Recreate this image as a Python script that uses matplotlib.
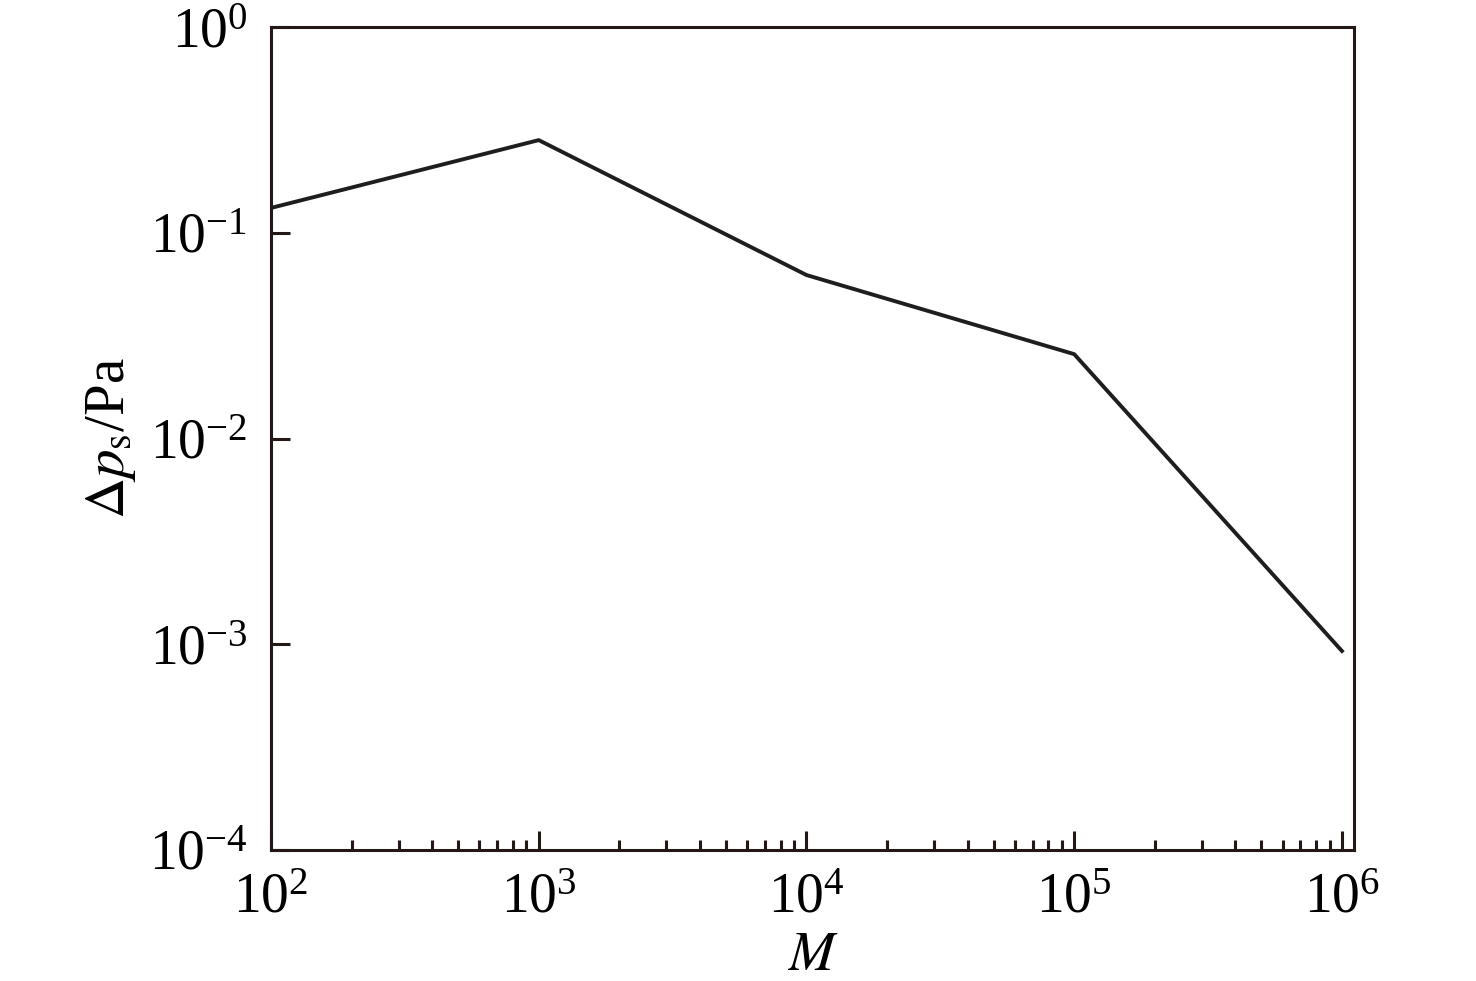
import matplotlib
matplotlib.use("Agg")
import matplotlib.pyplot as plt
from matplotlib.ticker import LogLocator, NullLocator, NullFormatter

M = [1e2, 1e3, 1e4, 1e5, 1e6]
dps = [0.132, 0.282, 0.0623, 0.0257, 0.000927]

plt.rcParams['font.family'] = ['Liberation Serif', 'DejaVu Serif']
plt.rcParams['mathtext.fontset'] = 'stix'

fig = plt.figure(figsize=(14.76, 9.81), dpi=100)
ax = fig.add_axes([271/1476, 1-850/981, (1354-271)/1476, (850-27)/981])
ax.plot(M, dps, color='#1e1e1e', lw=2.8)
ax.set_xscale('log')
ax.set_yscale('log')
ax.set_xlim(1e2, 10**6.045)
ax.set_ylim(1e-4, 1)

for s in ax.spines.values():
    s.set_linewidth(2.2)
    s.set_color('#231815')

ax.xaxis.set_major_locator(LogLocator(base=10, numticks=10))
ax.xaxis.set_minor_locator(LogLocator(base=10, subs=range(2, 10), numticks=20))
ax.xaxis.set_minor_formatter(NullFormatter())
ax.yaxis.set_major_locator(LogLocator(base=10, numticks=10))
ax.yaxis.set_minor_locator(NullLocator())

ax.tick_params(which='both', direction='in', top=False, right=False,
               color='#231815', width=2.2, labelsize=40)
ax.tick_params(axis='x', which='major', length=14, pad=16)
ax.tick_params(axis='x', which='minor', length=7)
ax.tick_params(axis='y', which='major', length=14, pad=17)

ax.set_xlabel(r'$M$', fontsize=40, labelpad=4)
ax.set_ylabel(r'$\Delta p_{\mathrm{s}}$/Pa', fontsize=41, labelpad=8)

fig.savefig('out.png', dpi=100)
